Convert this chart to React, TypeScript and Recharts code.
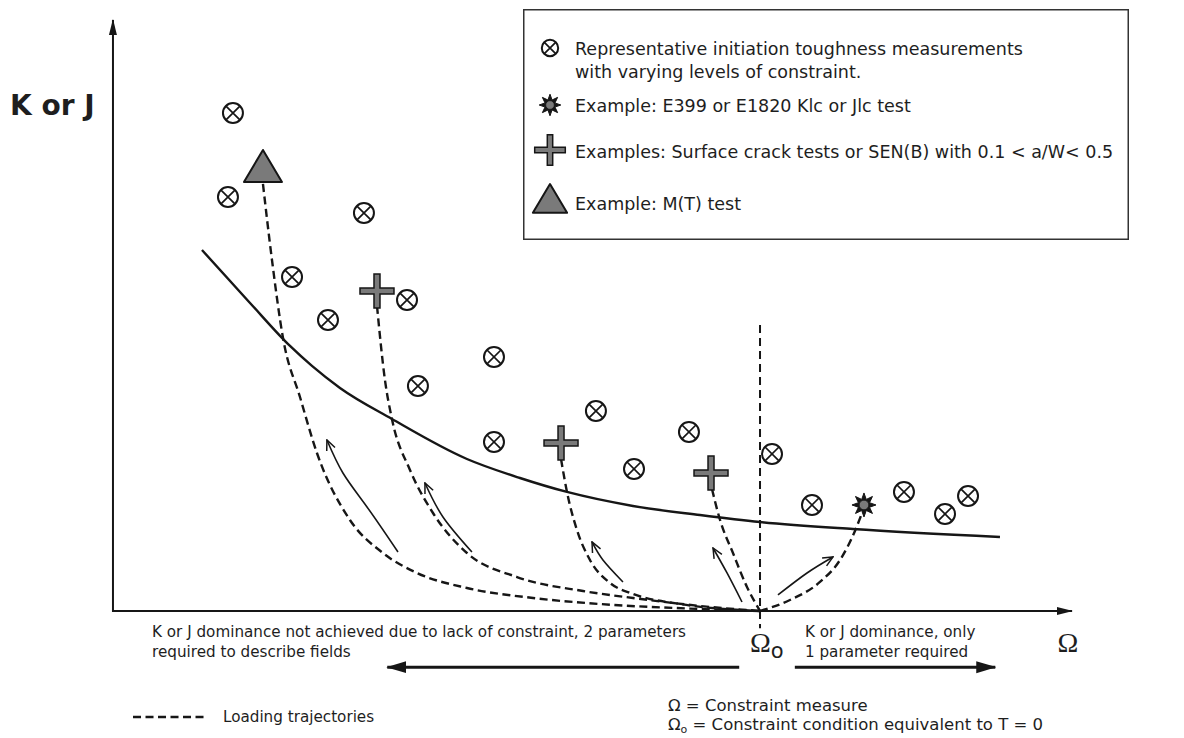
import React from 'react';
import { ComposedChart, Line, Scatter, XAxis, YAxis, Legend } from 'recharts';

const FONT = '"DejaVu Sans", Verdana, sans-serif';
const SERIF = '"Liberation Serif", "DejaVu Serif", serif';
const INK = '#161616';
const GREY = '#7a7a7a';

// schematic units: constraint axis (Ω) 0..100, toughness axis (K or J) 0..100
const X_DOMAIN: [number, number] = [-11.78, 111.68];
const Y_DOMAIN: [number, number] = [-21.49, 103.38];

const OMEGA_0 = 67.47;

const measurements = [
  { x: 12.51, y: 84.26 },
  { x: 11.99, y: 70.05 },
  { x: 26.17, y: 67.34 },
  { x: 18.67, y: 56.51 },
  { x: 22.42, y: 49.24 },
  { x: 30.66, y: 52.62 },
  { x: 31.8, y: 38.07 },
  { x: 39.73, y: 42.98 },
  { x: 39.73, y: 28.6 },
  { x: 50.36, y: 33.84 },
  { x: 54.33, y: 24.03 },
  { x: 60.06, y: 30.29 },
  { x: 68.72, y: 26.57 },
  { x: 72.89, y: 17.94 },
  { x: 82.48, y: 20.14 },
  { x: 86.76, y: 16.41 },
  { x: 89.16, y: 19.46 },
];

const surfaceCrackTests = [
  { x: 27.53, y: 54.15 },
  { x: 46.72, y: 28.43 },
  { x: 62.36, y: 23.35 },
];

const mtTests = [{ x: 15.64, y: 74.62 }];
const kicTests = [{ x: 78.31, y: 17.94 }];

const dominanceCurve = [
  { x: 9.28, y: 61.08 },
  { x: 14.29, y: 52.12 },
  { x: 18.46, y: 44.84 },
  { x: 20.75, y: 41.46 },
  { x: 23.67, y: 37.73 },
  { x: 29.09, y: 32.49 },
  { x: 36.91, y: 25.72 },
  { x: 42.44, y: 22.5 },
  { x: 47.34, y: 20.14 },
  { x: 54.22, y: 17.77 },
  { x: 61.21, y: 16.24 },
  { x: 67.47, y: 15.06 },
  { x: 77.16, y: 13.87 },
  { x: 92.49, y: 12.52 },
];

const trajectoryMT = [
  { x: 15.64, y: 72.25 },
  { x: 16.58, y: 59.39 },
  { x: 17.73, y: 46.19 },
  { x: 19.5, y: 36.21 },
  { x: 21.27, y: 26.73 },
  { x: 24.71, y: 15.4 },
  { x: 28.15, y: 9.81 },
  { x: 31.7, y: 6.43 },
  { x: 36.91, y: 3.89 },
  { x: 43.8, y: 2.2 },
  { x: 50.78, y: 1.18 },
  { x: 61.21, y: 0.34 },
  { x: OMEGA_0, y: 0 },
];

const trajectoryCrack1 = [
  { x: 27.53, y: 51.61 },
  { x: 28.36, y: 39.09 },
  { x: 29.09, y: 32.49 },
  { x: 30.97, y: 23.86 },
  { x: 33.37, y: 16.58 },
  { x: 36.91, y: 9.81 },
  { x: 42.13, y: 5.75 },
  { x: 49.01, y: 3.38 },
  { x: 54.22, y: 2.2 },
  { x: 61.21, y: 0.85 },
  { x: OMEGA_0, y: 0 },
];

const trajectoryCrack2 = [
  { x: 46.72, y: 25.72 },
  { x: 47.34, y: 20.14 },
  { x: 48.38, y: 13.71 },
  { x: 49.74, y: 8.63 },
  { x: 51.83, y: 4.74 },
  { x: 54.22, y: 2.88 },
  { x: 59.12, y: 1.18 },
  { x: OMEGA_0, y: 0 },
];

const trajectoryCrack3 = [
  { x: 62.46, y: 20.64 },
  { x: 63.3, y: 15.4 },
  { x: 64.65, y: 9.81 },
  { x: 66.11, y: 4.06 },
  { x: OMEGA_0, y: 0 },
];

const trajectoryKIc = [
  { x: OMEGA_0, y: 0 },
  { x: 70.59, y: 1.86 },
  { x: 73.72, y: 4.91 },
  { x: 75.81, y: 8.63 },
  { x: 77.37, y: 13.54 },
  { x: 77.99, y: 16.07 },
];

const loadingArrows = [
  [
    { x: 29.72, y: 9.98 },
    { x: 26.49, y: 17.6 },
    { x: 23.98, y: 23.35 },
    { x: 22.31, y: 28.93 },
  ],
  [
    { x: 37.43, y: 9.98 },
    { x: 34.41, y: 15.91 },
    { x: 32.53, y: 21.66 },
  ],
  [
    { x: 53.18, y: 4.91 },
    { x: 51.09, y: 8.63 },
    { x: 49.95, y: 11.68 },
  ],
  [
    { x: 65.59, y: 1.52 },
    { x: 64.03, y: 6.43 },
    { x: 62.57, y: 10.66 },
  ],
  [
    { x: 69.34, y: 2.71 },
    { x: 72.37, y: 6.43 },
    { x: 75.08, y: 9.14 },
  ],
];

const trajectories = [trajectoryMT, trajectoryCrack1, trajectoryCrack2, trajectoryCrack3, trajectoryKIc];

const axisOmega = [{ x: 0, y: 0 }, { x: 100, y: 0 }];
const axisK = [{ x: 0, y: -0.15 }, { x: 0, y: 100 }];
const omega0Line = [{ x: OMEGA_0, y: 48.4 }, { x: OMEGA_0, y: -2.9 }];
const lowConstraintArrow = [{ x: 65.3, y: -9.5 }, { x: 28.6, y: -9.5 }];
const highConstraintArrow = [{ x: 71.1, y: -9.5 }, { x: 92.0, y: -9.5 }];
const trajectoryKey = [{ x: 2.09, y: -17.94 }, { x: 9.91, y: -17.94 }];

const captions = [
  { x: -10.74, y: 83.9, kind: 'axisK', lines: ['K or J'] },
  { x: 99.58, y: -6.94, kind: 'axisOmega', lines: ['Ω'] },
  { x: 66.42, y: -6.94, kind: 'omega0', lines: ['Ω{o}'] },
  {
    x: 4.07,
    y: -4.4,
    kind: 'note',
    lines: ['K or J dominance not achieved due to lack of constraint, 2 parameters', 'required to describe fields'],
  },
  { x: 72.16, y: -4.4, kind: 'note', lines: ['K or J dominance, only', '1 parameter required'] },
  {
    x: 57.87,
    y: -16.92,
    kind: 'def',
    lines: ['Ω = Constraint measure', 'Ω{o} = Constraint condition equivalent to T = 0'],
  },
  { x: 11.47, y: -18.78, kind: 'note', lines: ['Loading trajectories'] },
];

const legendItems = [
  { mark: 'measure', lines: ['Representative initiation toughness measurements', 'with varying levels of constraint.'] },
  { mark: 'kic', lines: ['Example: E399 or E1820 Klc or Jlc test'] },
  { mark: 'crack', lines: ['Examples: Surface crack tests or SEN(B) with 0.1 < a/W< 0.5'] },
  { mark: 'mt', lines: ['Example: M(T) test'] },
];

const captionStyles: Record<string, any> = {
  axisK: { font: FONT, size: 28, weight: 'bold', anchor: 'start', lead: 0 },
  axisOmega: { font: SERIF, size: 28, weight: 'normal', anchor: 'middle', lead: 0 },
  omega0: { font: SERIF, size: 28, weight: 'normal', anchor: 'start', lead: 0, subFont: FONT, subSize: 21, subDy: 6 },
  note: { font: FONT, size: 15.2, weight: 'normal', anchor: 'start', lead: 20 },
  def: { font: FONT, size: 16.5, weight: 'normal', anchor: 'start', lead: 19, subFont: FONT, subSize: 11, subDy: 3 },
};

const MeasureMark = ({ cx, cy, s = 1 }: any) => {
  const r = 10 * s;
  const d = r * 0.72;
  return (
    <g>
      <circle cx={cx} cy={cy} r={r} fill="#fff" stroke={INK} strokeWidth={2} />
      <path
        d={`M${cx - d},${cy - d}L${cx + d},${cy + d}M${cx + d},${cy - d}L${cx - d},${cy + d}`}
        stroke={INK}
        strokeWidth={1.7}
      />
    </g>
  );
};

const CrackMark = ({ cx, cy, s = 1 }: any) => {
  const a = 17 * s;
  const t = 3 * s;
  const d = [
    [-t, -a], [t, -a], [t, -t], [a, -t], [a, t], [t, t],
    [t, a], [-t, a], [-t, t], [-a, t], [-a, -t], [-t, -t],
  ]
    .map(([dx, dy], i) => `${i ? 'L' : 'M'}${cx + dx},${cy + dy}`)
    .join('') + 'Z';
  return <path d={d} fill={GREY} stroke={INK} strokeWidth={1.5} />;
};

const MTMark = ({ cx, cy, s = 1 }: any) => (
  <path
    d={`M${cx},${cy - 20 * s}L${cx + 19 * s},${cy + 12 * s}L${cx - 19 * s},${cy + 12 * s}Z`}
    fill={GREY}
    stroke={INK}
    strokeWidth={2}
    strokeLinejoin="round"
  />
);

const KIcMark = ({ cx, cy, s = 1 }: any) => {
  const pts: string[] = [];
  for (let i = 0; i < 16; i++) {
    const r = (i % 2 === 0 ? 12 : 6) * s;
    const ang = (Math.PI * 2 * i) / 16 - Math.PI / 2;
    pts.push(`${i ? 'L' : 'M'}${cx + r * Math.cos(ang)},${cy + r * Math.sin(ang)}`);
  }
  return (
    <g>
      <path d={pts.join('') + 'Z'} fill={INK} stroke={INK} strokeWidth={1} strokeLinejoin="round" />
      <circle cx={cx} cy={cy} r={4.8 * s} fill={GREY} stroke={INK} strokeWidth={0.8} />
    </g>
  );
};

const marks: Record<string, any> = {
  measure: MeasureMark,
  crack: CrackMark,
  mt: MTMark,
  kic: KIcMark,
};

const renderLine = (line: string, st: any) => {
  const parts = line.split('{o}');
  if (parts.length === 1) return line;
  return (
    <>
      {parts[0]}
      <tspan fontFamily={st.subFont} fontSize={st.subSize} dy={st.subDy}>o</tspan>
      <tspan dy={-st.subDy}>{parts[1]}</tspan>
    </>
  );
};

const Caption = ({ cx, cy, payload }: any) => {
  const st = captionStyles[payload.kind];
  return (
    <text
      x={cx}
      y={cy}
      fontFamily={st.font}
      fontSize={st.size}
      fontWeight={st.weight}
      textAnchor={st.anchor}
      fill="#1e1e1e"
    >
      {payload.lines.map((l: string, i: number) => (
        <tspan key={i} x={cx} dy={i === 0 ? 0 : st.lead}>
          {renderLine(l, st)}
        </tspan>
      ))}
    </text>
  );
};

// legend rows: icon centre and text baseline inside the box
const LEGEND_ROWS = [
  { cy: 39, base: 46 },
  { cy: 96, base: 103 },
  { cy: 141, base: 149 },
  { cy: 193, base: 201 },
];

const LegendBox = () => (
  <svg width={606} height={231} style={{ display: 'block' }}>
    <rect x={0.75} y={0.75} width={604.5} height={229.5} fill="#fff" stroke="#333" strokeWidth={1.5} />
    {legendItems.map((item, i) => {
      const Mark = marks[item.mark];
      const row = LEGEND_ROWS[i];
      return (
        <g key={item.mark}>
          <Mark cx={27} cy={row.cy} s={item.mark === 'measure' ? 0.82 : 0.9} />
          <text x={52} y={row.base} fontFamily={FONT} fontSize={17.5} fill="#1e1e1e">
            {item.lines.map((l, j) => (
              <tspan key={j} x={52} dy={j === 0 ? 0 : 23}>
                {l}
              </tspan>
            ))}
          </text>
        </g>
      );
    })}
  </svg>
);

const lineBase = {
  dataKey: 'y',
  dot: false,
  activeDot: false,
  isAnimationActive: false,
  legendType: 'none' as const,
  stroke: INK,
};

export default function App() {
  return (
    <div style={{ position: 'absolute', left: 0, top: 0, background: '#fff' }}>
      <ComposedChart width={1184} height={738} margin={{ top: 0, right: 0, bottom: 0, left: 0 }}>
        <defs>
          <marker
            id="openHead"
            viewBox="0 0 12 12"
            refX={11}
            refY={6}
            markerWidth={12}
            markerHeight={12}
            markerUnits="userSpaceOnUse"
            orient="auto"
          >
            <path d="M1,1.5 L11,6 L1,10.5" fill="none" stroke={INK} strokeWidth={1.5} />
          </marker>
          <marker
            id="axisHead"
            viewBox="0 0 16 10"
            refX={15}
            refY={5}
            markerWidth={16}
            markerHeight={10}
            markerUnits="userSpaceOnUse"
            orient="auto"
          >
            <path d="M0,1 L16,5 L0,9 Z" fill={INK} />
          </marker>
          <marker
            id="bigHead"
            viewBox="0 0 20 14"
            refX={19}
            refY={7}
            markerWidth={20}
            markerHeight={14}
            markerUnits="userSpaceOnUse"
            orient="auto"
          >
            <path d="M0,1 L20,7 L0,13 Z" fill={INK} />
          </marker>
        </defs>
        <XAxis type="number" dataKey="x" domain={X_DOMAIN} allowDataOverflow hide />
        <YAxis type="number" dataKey="y" domain={Y_DOMAIN} allowDataOverflow hide />

        <Line {...lineBase} data={axisOmega} type="linear" strokeWidth={2} markerEnd="url(#axisHead)" />
        <Line {...lineBase} data={axisK} type="linear" strokeWidth={2} markerEnd="url(#axisHead)" />
        <Line {...lineBase} data={omega0Line} type="linear" strokeWidth={2} strokeDasharray="8 5" />

        {trajectories.map((t, i) => (
          <Line key={`traj-${i}`} {...lineBase} data={t} type="monotone" strokeWidth={2.4} strokeDasharray="8 4.5" />
        ))}

        <Line {...lineBase} data={dominanceCurve} type="monotone" strokeWidth={2.4} />

        {loadingArrows.map((a, i) => (
          <Line key={`arrow-${i}`} {...lineBase} data={a} type="natural" strokeWidth={1.6} markerEnd="url(#openHead)" />
        ))}

        <Line {...lineBase} data={lowConstraintArrow} type="linear" strokeWidth={3} markerEnd="url(#bigHead)" />
        <Line {...lineBase} data={highConstraintArrow} type="linear" strokeWidth={3} markerEnd="url(#bigHead)" />
        <Line {...lineBase} data={trajectoryKey} type="linear" strokeWidth={2.5} strokeDasharray="8 4.5" />

        <Scatter data={measurements} isAnimationActive={false} legendType="none" shape={(p: any) => <MeasureMark cx={p.cx} cy={p.cy} />} />
        <Scatter data={surfaceCrackTests} isAnimationActive={false} legendType="none" shape={(p: any) => <CrackMark cx={p.cx} cy={p.cy} />} />
        <Scatter data={mtTests} isAnimationActive={false} legendType="none" shape={(p: any) => <MTMark cx={p.cx} cy={p.cy} />} />
        <Scatter data={kicTests} isAnimationActive={false} legendType="none" shape={(p: any) => <KIcMark cx={p.cx} cy={p.cy} />} />
        <Scatter data={captions} isAnimationActive={false} legendType="none" shape={(p: any) => <Caption {...p} />} />

        <Legend
          layout="horizontal"
          verticalAlign="middle"
          align="center"
          wrapperStyle={{ left: 523, top: 9, width: 606, height: 231 }}
          content={() => <LegendBox />}
        />
      </ComposedChart>
    </div>
  );
}
